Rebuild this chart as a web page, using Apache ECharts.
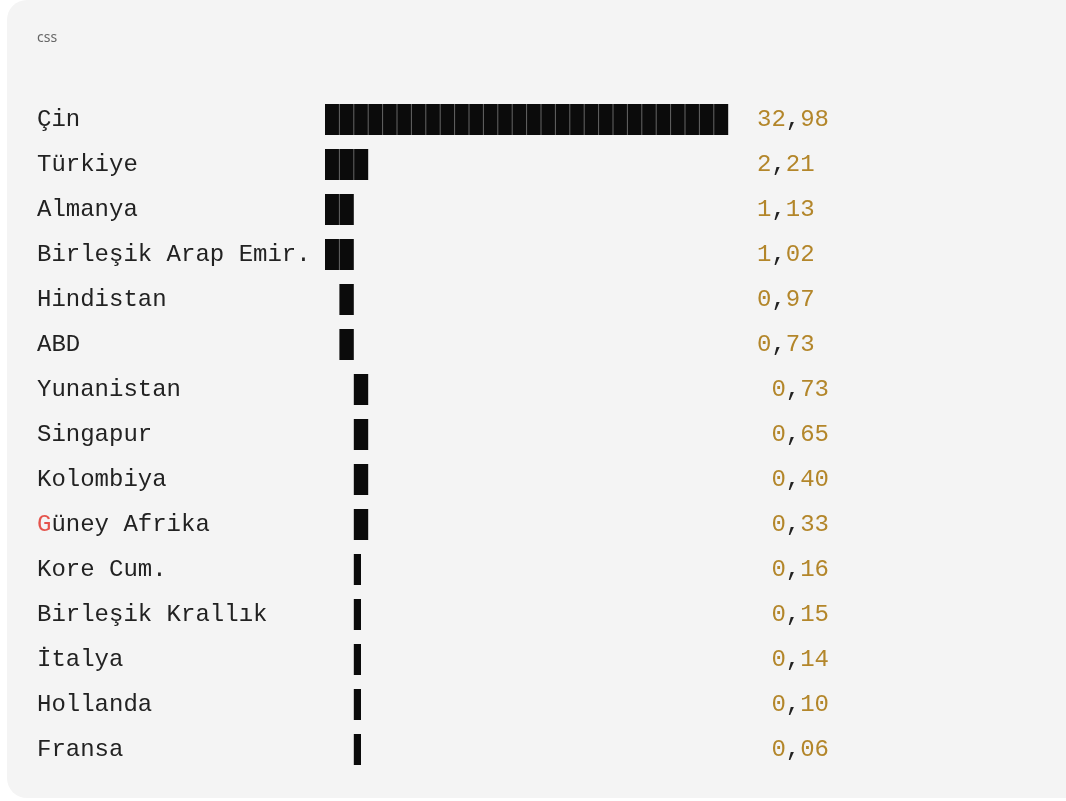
<!DOCTYPE html>
<html>
<head>
<meta charset="utf-8">
<script src="https://cdn.jsdelivr.net/npm/echarts@6/dist/echarts.min.js"></script>
<style>
  html, body { margin: 0; padding: 0; background: #fff; }
  #chart { width: 1066px; height: 801px; }
</style>
</head>
<body>
<div id="chart"></div>
<script>
// ulkeler ve paylar (%)
var countries = ['Çin', 'Türkiye', 'Almanya', 'Birleşik Arap Emir.', 'Hindistan', 'ABD',
    'Yunanistan', 'Singapur', 'Kolombiya', 'Güney Afrika', 'Kore Cum.',
    'Birleşik Krallık', 'İtalya', 'Hollanda', 'Fransa'];
var shares = [32.98, 2.21, 1.13, 1.02, 0.97, 0.73, 0.73, 0.65, 0.40, 0.33, 0.16, 0.15, 0.14, 0.10, 0.06];
// metin cubugu: blok sayisi ve bastaki bosluk sayisi
var blocks = [28, 3, 2, 2, 1, 1, 1, 1, 1, 1, 0.5, 0.5, 0.5, 0.5, 0.5];
var indent = [0, 0, 0, 0, 1, 1, 2, 2, 2, 2, 2, 2, 2, 2, 2];

var MONO = '"Liberation Mono", "DejaVu Sans Mono", monospace';

var rows = [];
for (var i = 0; i < countries.length; i++) {
    rows.push([indent[i], indent[i] + blocks[i], i, shares[i]]);
}

function fmt(v) {
    var s = v.toFixed(2).split('.');
    return '{n|' + s[0] + '}{c|,}{n|' + s[1] + '}';
}

var chart = echarts.init(document.getElementById('chart'));
var option = {
    backgroundColor: '#ffffff',
    animation: false,
    graphic: [
        {
            type: 'rect', z: -10,
            shape: { x: 7, y: 0, width: 1120, height: 798, r: 20 },
            style: { fill: '#f4f4f4' }
        },
        {
            type: 'text', left: 37, top: 31,
            style: { text: 'css', fill: '#666', font: '14px "Noto Sans", sans-serif' }
        }
    ],
    grid: { left: 325, width: 576, top: 97, height: 675 },
    xAxis: {
        type: 'value', min: 0, max: 40,
        show: false
    },
    yAxis: {
        type: 'category',
        data: countries,
        inverse: true,
        axisLine: { show: false },
        axisTick: { show: false },
        splitLine: { show: false },
        axisLabel: {
            align: 'left',
            margin: 288,
            formatter: function (v) {
                if (v.charAt(0) === 'G') return '{r|G}{t|' + v.slice(1) + '}';
                return '{t|' + v + '}';
            },
            rich: {
                t: { fontFamily: MONO, fontSize: 24, color: '#222' },
                r: { fontFamily: MONO, fontSize: 24, color: '#e5544c' }
            }
        }
    },
    series: [{
        type: 'custom',
        encode: { x: [0, 1], y: 2 },
        data: rows,
        renderItem: function (params, api) {
            var idx = api.value(2);
            var a = api.value(0), b = api.value(1);
            var p0 = api.coord([a, idx]);
            var p1 = api.coord([b, idx]);
            var h = 31;
            var y = p0[1] - h / 2;
            var children = [{
                type: 'rect',
                shape: { x: p0[0], y: y, width: p1[0] - p0[0], height: h },
                style: { fill: '#0b0b0b' }
            }];
            for (var k = a + 1; k < b; k++) {
                var px = api.coord([k, idx])[0];
                children.push({
                    type: 'line',
                    shape: { x1: px, y1: y, x2: px, y2: y + h },
                    style: { stroke: '#666', lineWidth: 1 }
                });
            }
            var shift = a > 1 ? 1 : 0;
            var lp = api.coord([30 + shift, idx]);
            children.push({
                type: 'text',
                x: lp[0], y: lp[1],
                style: {
                    text: fmt(api.value(3)),
                    verticalAlign: 'middle',
                    align: 'left',
                    rich: {
                        n: { fontFamily: MONO, fontSize: 24, fill: '#b3862a' },
                        c: { fontFamily: MONO, fontSize: 24, fill: '#222' }
                    }
                }
            });
            return { type: 'group', children: children };
        }
    }]
};
chart.setOption(option);
</script>
</body>
</html>
